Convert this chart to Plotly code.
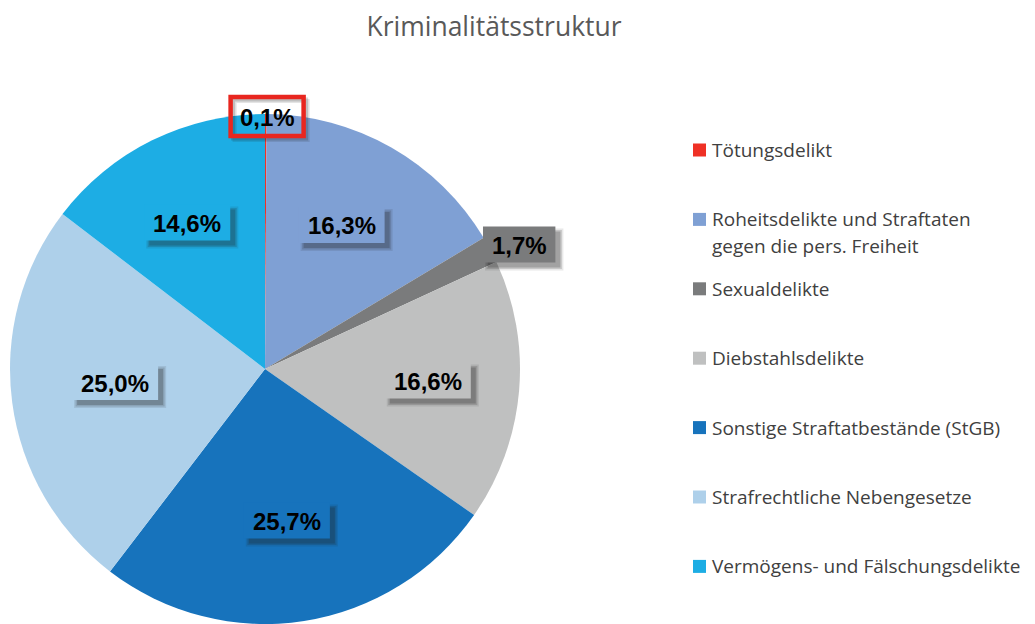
import math
import plotly.graph_objects as go

# ---- data ----
labels = [
    "Tötungsdelikt",
    "Roheitsdelikte und Straftaten\ngegen die pers. Freiheit",
    "Sexualdelikte",
    "Diebstahlsdelikte",
    "Sonstige Straftatbestände (StGB)",
    "Strafrechtliche Nebengesetze",
    "Vermögens- und Fälschungsdelikte",
]
values = [0.1, 16.3, 1.7, 16.6, 25.7, 25.0, 14.6]
value_text = ["0,1%", "16,3%", "1,7%", "16,6%", "25,7%", "25,0%", "14,6%"]
title_text = "Kriminalitätsstruktur"

# ---- style ----
colors = ["#EF3125", "#7FA0D4", "#7A7B7C", "#BFC0C0", "#1773BC", "#AED0EA", "#1DADE4"]
label_radius = [0.99, 0.64, 1.11, 0.64, 0.60, 0.59, 0.65]
label_angle_adj = [0.3, -1.7, 1.8, -1.0, 0.6, 2.6, -1.7]

OFF = 8  # page body margin
W, H = 1035 - OFF, 624 - OFF
pie_left, pie_right = 10, 520
pie_top, pie_bottom = 114, 624


def px2paper(x, y):
    # window pixel coords -> paper coords
    return (x - OFF) / W, 1 - (y - OFF) / H


cx = (pie_left + pie_right) / 2
cy = (pie_top + pie_bottom) / 2
R = (pie_bottom - pie_top) / 2

fig = go.Figure()
dx0, dy0 = px2paper(pie_left, pie_bottom)
dx1, dy1 = px2paper(pie_right, pie_top)
fig.add_trace(go.Pie(
    labels=[l.replace("\n", " ") for l in labels],
    values=values,
    marker=dict(colors=colors, line=dict(width=0)),
    sort=False,
    direction="clockwise",
    rotation=0,
    textinfo="none",
    hoverinfo="label+percent",
    showlegend=False,
    domain=dict(x=[dx0, dx1], y=[max(dy0, 0), dy1]),
))


def rect(x0, y0, x1, y1, **kw):
    a0, b0 = px2paper(x0, y1)
    a1, b1 = px2paper(x1, y0)
    d = dict(type="rect", xref="paper", yref="paper", x0=a0, x1=a1, y0=b0, y1=b1, layer="above")
    d.update(kw)
    return d


total = sum(values)
cum = 0.0
annotations = []
shapes = []
for i, v in enumerate(values):
    mid = (cum + v / 2) / total * 360 + label_angle_adj[i]
    cum += v
    th = math.radians(mid)
    x = cx + label_radius[i] * R * math.sin(th)
    y = cy - label_radius[i] * R * math.cos(th)
    bw = 18 + 13.6 * len(value_text[i])
    bh = 36
    if i == 0:
        bw, bh = 73, 39
        for off, alpha in [(4, 0.12), (2.5, 0.18)]:
            shapes.append(rect(x - bw / 2 + off, y - bh / 2 + off, x + bw / 2 + off, y + bh / 2 + off,
                               line=dict(color=f"rgba(30,30,30,{alpha})", width=4), fillcolor="rgba(0,0,0,0)"))
        shapes.append(rect(x - bw / 2, y - bh / 2, x + bw / 2, y + bh / 2,
                           line=dict(color="#E8261F", width=4.5), fillcolor="rgba(0,0,0,0)"))
    else:
        # soft shadow
        for off, alpha, grow in [(5, 0.10, 3), (5, 0.16, 1.5), (5, 0.22, 0)]:
            shapes.append(rect(x - bw / 2 + off - grow, y - bh / 2 + off - grow,
                               x + bw / 2 + off + grow, y + bh / 2 + off + grow,
                               line=dict(width=0), fillcolor=f"rgba(30,30,30,{alpha})"))
        shapes.append(rect(x - bw / 2, y - bh / 2, x + bw / 2, y + bh / 2,
                           line=dict(width=0), fillcolor=colors[i]))
    px, py = px2paper(x, y + 1)
    annotations.append(dict(x=px, y=py, xref="paper", yref="paper", text="<b>" + value_text[i] + "</b>",
                            xanchor="center", yanchor="middle", showarrow=False,
                            font=dict(family="Liberation Sans, Arial", size=24, color="#000000")))

# ---- legend (manual) ----
leg_x_marker = 694
leg_x_text = 710
leg_y0 = 150
leg_step = 69.4
leg_line = 27
for i, lab in enumerate(labels):
    yc = leg_y0 + i * leg_step
    shapes.append(rect(leg_x_marker - 1, yc - 6.5, leg_x_marker + 12, yc + 6.5,
                       line=dict(width=0), fillcolor=colors[i]))
    for k, line in enumerate(lab.split("\n")):
        ax, ay = px2paper(leg_x_text, yc + k * leg_line)
        annotations.append(dict(x=ax, y=ay, xref="paper", yref="paper", text=line,
                                xanchor="left", yanchor="middle", showarrow=False,
                                font=dict(family="Open Sans", size=19, color="#404040")))

tx, ty = px2paper(494, 27)
fig.update_layout(
    width=W, height=H,
    margin=dict(l=0, r=0, t=0, b=0),
    paper_bgcolor="white",
    title=dict(text=title_text, x=tx, xanchor="center", y=ty, yanchor="middle",
               font=dict(family="Open Sans", size=26.5, color="#595959")),
    annotations=annotations,
    shapes=shapes,
)
fig.write_html("out.html")
